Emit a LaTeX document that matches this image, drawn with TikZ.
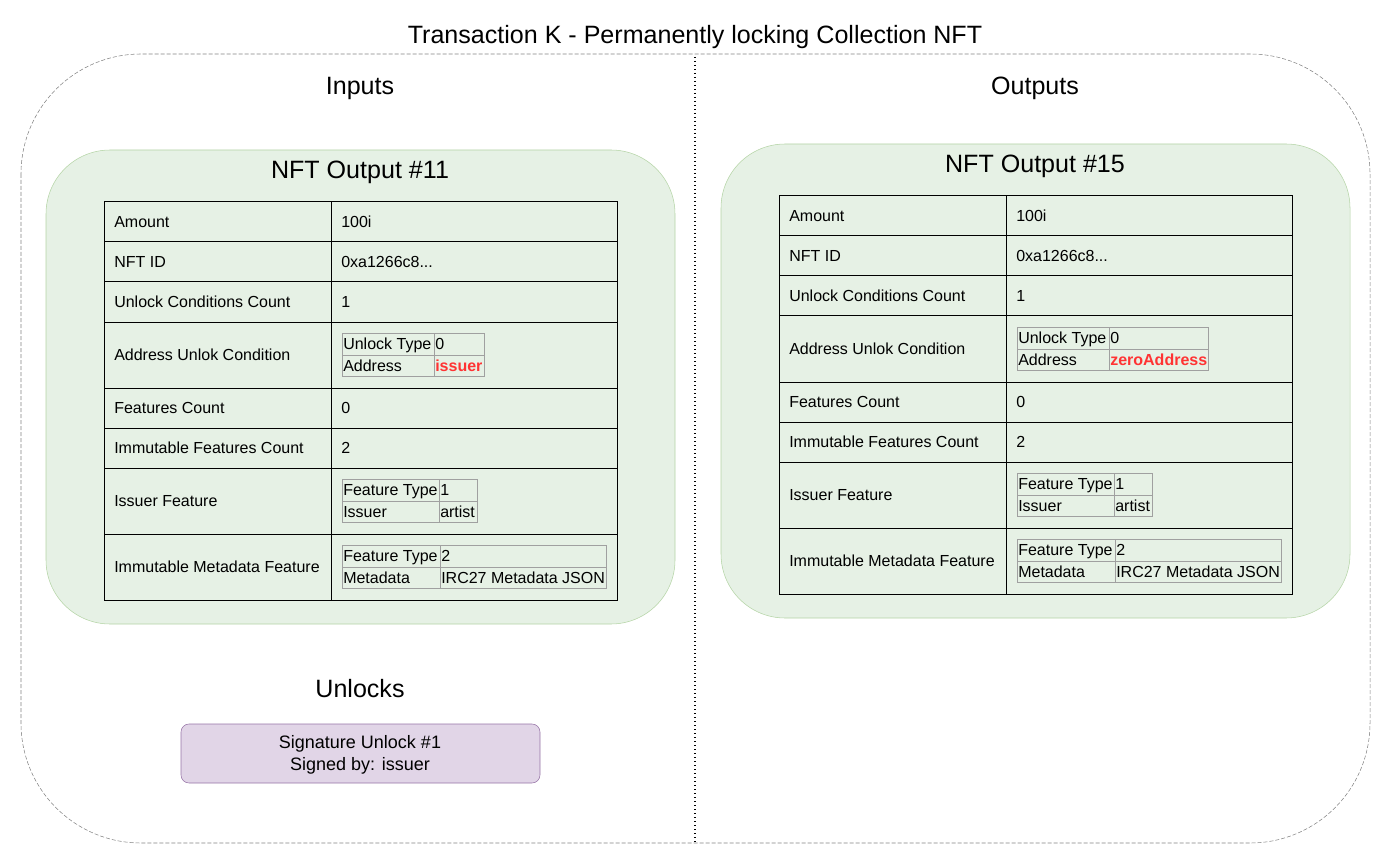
\documentclass[tikz,border=0pt]{standalone}
\usepackage{fontspec}
\setmainfont{Liberation Sans}
\definecolor{boxgreen}{RGB}{230,241,229}
\definecolor{linegreen}{RGB}{180,212,165}
\definecolor{boxpurple}{RGB}{225,213,231}
\definecolor{linepurple}{RGB}{150,115,166}
\definecolor{cellgray}{RGB}{160,160,160}
\definecolor{addrred}{RGB}{255,51,51}
\tikzset{
  big/.style={anchor=base,inner sep=0pt,font=\fontsize{18.8}{22}\selectfont},
  cell/.style={anchor=base west,inner sep=0pt,font=\fontsize{12}{14}\selectfont},
  subcell/.style={anchor=base west,inner sep=0pt,font=\fontsize{12}{14}\selectfont},
  redcell/.style={subcell,text=addrred,font=\fontsize{12}{14}\selectfont\bfseries},
  outbox/.style={draw=linegreen,fill=boxgreen,rounded corners=48},
  subtable/.style={draw=cellgray,line width=0.75pt},
}
\begin{document}
\begin{tikzpicture}[x=0.75pt,y=0.75pt,yscale=-1,xscale=1]
\useasboundingbox (0,0) rectangle (1392,866);

%Rounded Rect (transaction)
\draw [draw={rgb,255:red,130;green,130;blue,130},dashed,dash pattern=on 3pt off 1.5pt,rounded corners=90] (21,54) rectangle (1370,843);
%Straight Lines (divider)
\coordinate (divtop) at (695,57);
\coordinate (divbot) at (695,843);
\draw [line width=1,dotted] (divtop) -- (divbot);

% Text Node
\node (title) [big] at (695,44) {Transaction K - Permanently locking Collection NFT};
% Text Node
\node (inputs) [big] at (360,95) {Inputs};
% Text Node
\node (outputs) [big] at (1035,95) {Outputs};

%%%%%%%%%%%%%%%% Input NFT output
%Rounded Rect
\draw [outbox] (46,150) rectangle (675,624);
% Text Node
\node (inname) [big] at (360,179) {NFT Output \#11};
%Shape: Table
\draw [line width=0.75] (104,202) rectangle (617,600);
\draw [line width=0.75] (331,202) -- (331,600);
\draw [line width=0.75] (104,242) -- (617,242);
\draw [line width=0.75] (104,282) -- (617,282);
\draw [line width=0.75] (104,322) -- (617,322);
\draw [line width=0.75] (104,388) -- (617,388);
\draw [line width=0.75] (104,428) -- (617,428);
\draw [line width=0.75] (104,468) -- (617,468);
\draw [line width=0.75] (104,534) -- (617,534);
% Text Node
\node (inamt) [cell] at (114,227.5) {Amount};
\node (inamtv) [cell] at (341,227.5) {100i};
\node (inid) [cell] at (114,267.5) {NFT ID};
\node (inidv) [cell] at (341,267.5) {0xa1266c8...};
\node (inucc) [cell] at (114,307.5) {Unlock Conditions Count};
\node (inuccv) [cell] at (341,307.5) {1};
\node (inauc) [cell] at (114,360.5) {Address Unlok Condition};
\node (infc) [cell] at (114,413.5) {Features Count};
\node (infcv) [cell] at (341,413.5) {0};
\node (inifc) [cell] at (114,453.5) {Immutable Features Count};
\node (inifcv) [cell] at (341,453.5) {2};
\node (inisf) [cell] at (114,506.5) {Issuer Feature};
\node (inimf) [cell] at (114,572.5) {Immutable Metadata Feature};
%Shape: Sub table (unlock)
\draw [subtable] (342,333) rectangle (484,376);
\draw [subtable] (434,333) -- (434,376);
\draw [subtable] (342,355) -- (484,355);
\node (inut) [subcell] at (343,349.5) {Unlock Type};
\node (inutv) [subcell] at (435,349.5) {0};
\node (inad) [subcell] at (343,371.5) {Address};
\node (inadv) [redcell] at (435,371.5) {issuer};
%Shape: Sub table (issuer)
\draw [subtable] (342,479) rectangle (477,522);
\draw [subtable] (439,479) -- (439,522);
\draw [subtable] (342,501) -- (477,501);
\node (inft) [subcell] at (343,495.5) {Feature Type};
\node (inftv) [subcell] at (440,495.5) {1};
\node (inis) [subcell] at (343,517.5) {Issuer};
\node (inisv) [subcell] at (440,517.5) {artist};
%Shape: Sub table (metadata)
\draw [subtable] (342,545) rectangle (606,588);
\draw [subtable] (440,545) -- (440,588);
\draw [subtable] (342,567) -- (606,567);
\node (inmt) [subcell] at (343,561.5) {Feature Type};
\node (inmtv) [subcell] at (441,561.5) {2};
\node (inmd) [subcell] at (343,583.5) {Metadata};
\node (inmdv) [subcell] at (441,583.5) {IRC27 Metadata JSON};

%%%%%%%%%%%%%%%% Output NFT output
%Rounded Rect
\draw [outbox] (721,144) rectangle (1350,618);
% Text Node
\node (outname) [big] at (1035,173) {NFT Output \#15};
%Shape: Table
\draw [line width=0.75] (779,196) rectangle (1292,594);
\draw [line width=0.75] (1006,196) -- (1006,594);
\draw [line width=0.75] (779,236) -- (1292,236);
\draw [line width=0.75] (779,276) -- (1292,276);
\draw [line width=0.75] (779,316) -- (1292,316);
\draw [line width=0.75] (779,382) -- (1292,382);
\draw [line width=0.75] (779,422) -- (1292,422);
\draw [line width=0.75] (779,462) -- (1292,462);
\draw [line width=0.75] (779,528) -- (1292,528);
% Text Node
\node (outamt) [cell] at (789,221.5) {Amount};
\node (outamtv) [cell] at (1016,221.5) {100i};
\node (outid) [cell] at (789,261.5) {NFT ID};
\node (outidv) [cell] at (1016,261.5) {0xa1266c8...};
\node (outucc) [cell] at (789,301.5) {Unlock Conditions Count};
\node (outuccv) [cell] at (1016,301.5) {1};
\node (outauc) [cell] at (789,354.5) {Address Unlok Condition};
\node (outfc) [cell] at (789,407.5) {Features Count};
\node (outfcv) [cell] at (1016,407.5) {0};
\node (outifc) [cell] at (789,447.5) {Immutable Features Count};
\node (outifcv) [cell] at (1016,447.5) {2};
\node (outisf) [cell] at (789,500.5) {Issuer Feature};
\node (outimf) [cell] at (789,566.5) {Immutable Metadata Feature};
%Shape: Sub table (unlock)
\draw [subtable] (1017,327) rectangle (1208,370);
\draw [subtable] (1109,327) -- (1109,370);
\draw [subtable] (1017,349) -- (1208,349);
\node (oututp) [subcell] at (1018,343.5) {Unlock Type};
\node (oututv) [subcell] at (1110,343.5) {0};
\node (outad) [subcell] at (1018,365.5) {Address};
\node (outadv) [redcell] at (1110,365.5) {zeroAddress};
%Shape: Sub table (issuer)
\draw [subtable] (1017,473) rectangle (1152,516);
\draw [subtable] (1114,473) -- (1114,516);
\draw [subtable] (1017,495) -- (1152,495);
\node (outft) [subcell] at (1018,489.5) {Feature Type};
\node (outftv) [subcell] at (1115,489.5) {1};
\node (outis) [subcell] at (1018,511.5) {Issuer};
\node (outisv) [subcell] at (1115,511.5) {artist};
%Shape: Sub table (metadata)
\draw [subtable] (1017,539) rectangle (1281,582);
\draw [subtable] (1115,539) -- (1115,582);
\draw [subtable] (1017,561) -- (1281,561);
\node (outmt) [subcell] at (1018,555.5) {Feature Type};
\node (outmtv) [subcell] at (1116,555.5) {2};
\node (outmd) [subcell] at (1018,577.5) {Metadata};
\node (outmdv) [subcell] at (1116,577.5) {IRC27 Metadata JSON};

%%%%%%%%%%%%%%%% Unlocks
% Text Node
\node (unlocks) [big] at (360,697) {Unlocks};
%Rounded Rect
\draw [draw=linepurple,fill=boxpurple,rounded corners=6] (181,724) rectangle (540,783);
% Text Node
\node (sigunlock) [inner sep=0pt,align=center,font=\fontsize{13.5}{16.5}\selectfont] at (360,755) {Signature Unlock \#1\\Signed by: issuer};
\end{tikzpicture}
\end{document}
